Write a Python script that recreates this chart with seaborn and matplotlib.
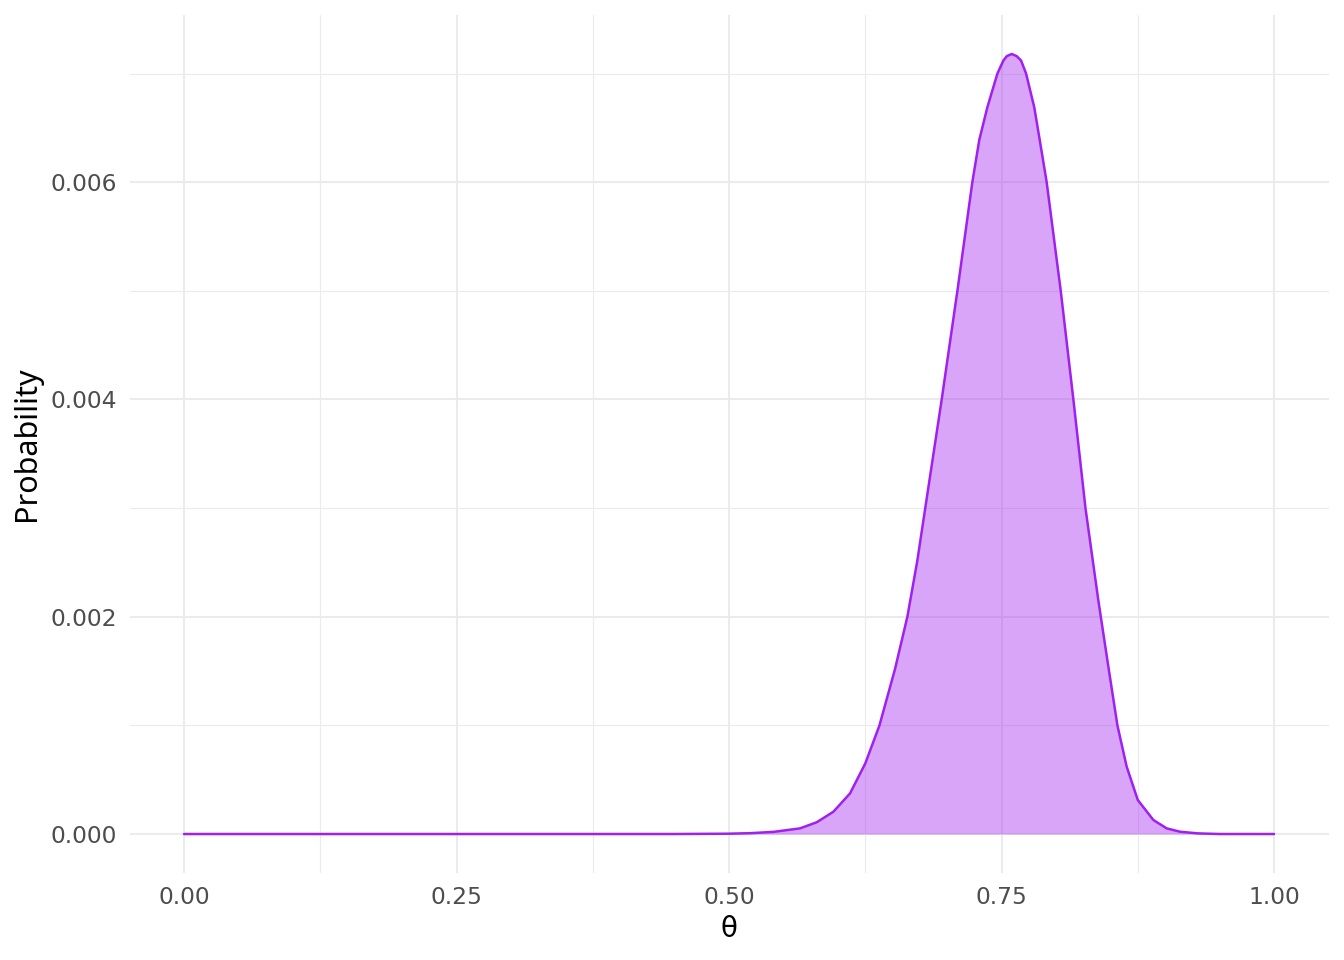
import pandas as pd
import matplotlib.pyplot as plt
import seaborn as sns
from matplotlib.ticker import MultipleLocator

# values
theta = [0.000, 0.450, 0.500, 0.520, 0.541, 0.5651, 0.5804, 0.5957, 0.611,
         0.625, 0.638, 0.6523, 0.6636, 0.6728, 0.680, 0.6951, 0.7095, 0.7232,
         0.7296, 0.737, 0.7462, 0.7517, 0.7548, 0.7593, 0.7639, 0.7679, 0.7725,
         0.780, 0.785, 0.7914, 0.8043, 0.8159, 0.827, 0.8388, 0.848, 0.8563,
         0.8648, 0.875, 0.8893, 0.9015, 0.9138, 0.930, 0.950, 1.000]
prob = [0.0, 0.0, 0.000003, 0.000008, 0.00002, 0.000052, 0.000108, 0.000205,
        0.000374, 0.00065, 0.001, 0.00152, 0.002, 0.00252, 0.003, 0.004, 0.005,
        0.006, 0.00639, 0.00669, 0.0070, 0.00712, 0.00716, 0.00718, 0.00716,
        0.00712, 0.0070, 0.00669, 0.00639, 0.006, 0.005, 0.004, 0.003, 0.00215,
        0.00154, 0.001, 0.00062, 0.000313, 0.000129, 0.000052, 0.000021,
        0.000006, 0.0, 0.0]

x_ticks = [0.0, 0.25, 0.5, 0.75, 1.0]
x_ticklabels = ["0.00", "0.25", "0.50", "0.75", "1.00"]
y_ticks = [0.0, 0.002, 0.004, 0.006]
y_ticklabels = ["0.000", "0.002", "0.004", "0.006"]

df = pd.DataFrame({"theta": theta, "prob": prob})

sns.set_style("white")
plt.rcParams["font.family"] = ["DejaVu Sans"]

fig = plt.figure(figsize=(13.44, 9.6), dpi=100)
ax = fig.add_axes([0.0964, 0.0906, 0.8921, 0.8938])

ax.fill_between(df["theta"], df["prob"], 0, color="#A020F0", alpha=0.4, linewidth=0, zorder=2)
sns.lineplot(data=df, x="theta", y="prob", color="#A020F0", linewidth=1.8, ax=ax, zorder=3)

ax.set_xlim(-0.05, 1.05)
ax.set_ylim(-0.000359, 0.007539)

ax.set_xticks(x_ticks)
ax.set_xticklabels(x_ticklabels)
ax.set_yticks(y_ticks)
ax.set_yticklabels(y_ticklabels)
ax.xaxis.set_minor_locator(MultipleLocator(0.125))
ax.yaxis.set_minor_locator(MultipleLocator(0.001))

ax.grid(which="major", color="#EBEBEB", linewidth=1.5, zorder=0)
ax.grid(which="minor", color="#EBEBEB", linewidth=0.8, zorder=0)
ax.set_axisbelow(True)
for s in ax.spines.values():
    s.set_visible(False)
ax.tick_params(which="both", length=0, labelsize=16.8, labelcolor="#4D4D4D", pad=9)

ax.set_xlabel("θ", fontsize=20, color="black", labelpad=5)
ax.set_ylabel("Probability", fontsize=22, color="black", family="Noto Sans", labelpad=6)

fig.savefig("out.png", dpi=100)
